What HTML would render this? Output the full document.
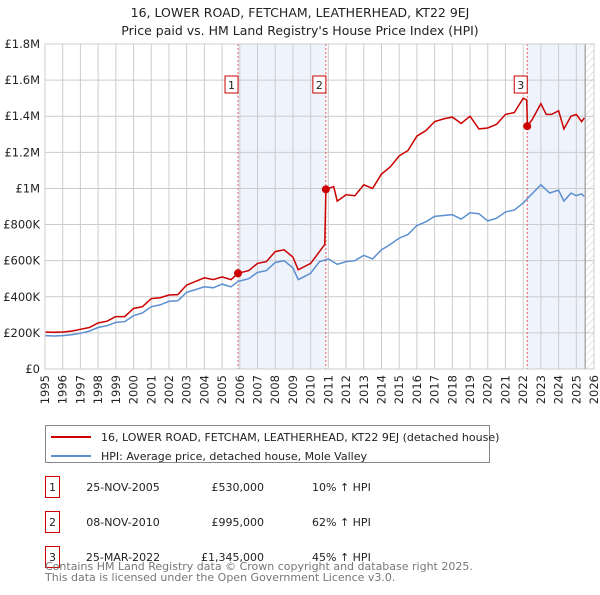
<!DOCTYPE html>
<html><head><meta charset="utf-8"><style>
body{margin:0;background:#fff;font-family:"Liberation Sans","DejaVu Sans",sans-serif;}
svg text{font-family:"DejaVu Sans","Liberation Sans",sans-serif;}
</style></head><body>
<svg id="chart" width="600" height="590" xmlns="http://www.w3.org/2000/svg">
<text x="300" y="17" text-anchor="middle" font-size="12.5" fill="#222">16, LOWER ROAD, FETCHAM, LEATHERHEAD, KT22 9EJ</text>
<text x="300" y="35" text-anchor="middle" font-size="12.5" fill="#222">Price paid vs. HM Land Registry's House Price Index (HPI)</text>
<defs><pattern id="hatch" width="5" height="5" patternUnits="userSpaceOnUse" patternTransform="rotate(45)"><line x1="0" y1="0" x2="0" y2="5" stroke="#ccc" stroke-width="1"/></pattern></defs>
<g id="plot"></g>
<g id="legend">
<rect x="45.5" y="425.5" width="444" height="37" fill="#fff" stroke="#888"/>
<line x1="51" y1="437" x2="91" y2="437" stroke="#cc0000" stroke-width="2"/>
<text x="101" y="441" font-size="11" fill="#222">16, LOWER ROAD, FETCHAM, LEATHERHEAD, KT22 9EJ (detached house)</text>
<line x1="51" y1="456" x2="91" y2="456" stroke="#5b8fd0" stroke-width="2"/>
<text x="101" y="460" font-size="11" fill="#222">HPI: Average price, detached house, Mole Valley</text>
</g>
<g id="table" font-size="11" fill="#222"></g>
<text x="45" y="570" font-size="11" fill="#777">Contains HM Land Registry data © Crown copyright and database right 2025.</text>
<text x="45" y="581" font-size="11" fill="#777">This data is licensed under the Open Government Licence v3.0.</text>
</svg>
<script>
const hpiYears=[1995,1995.5,1996,1996.5,1997,1997.5,1998,1998.5,1999,1999.5,2000,2000.5,2001,2001.5,2002,2002.5,2003,2003.5,2004,2004.5,2005,2005.5,2005.9,2006.5,2007,2007.5,2008,2008.5,2009,2009.3,2009.6,2010,2010.5,2011,2011.5,2012,2012.5,2013,2013.5,2014,2014.5,2015,2015.5,2016,2016.5,2017,2017.5,2018,2018.5,2019,2019.5,2020,2020.5,2021,2021.5,2022,2022.5,2023,2023.5,2024,2024.3,2024.7,2025,2025.3,2025.45];
const hpiValues=[185,183,185,190,198,210,230,240,258,262,295,310,345,355,375,378,425,440,455,450,470,455,485,500,535,545,590,600,560,495,510,530,595,610,580,595,600,630,610,660,690,725,745,795,815,845,850,855,830,865,860,820,835,870,880,920,970,1020,975,990,930,975,960,970,955];
const redYears=[1995,1995.5,1996,1996.5,1997,1997.5,1998,1998.5,1999,1999.5,2000,2000.5,2001,2001.5,2002,2002.5,2003,2003.5,2004,2004.5,2005,2005.5,2005.9,2006.5,2007,2007.5,2008,2008.5,2009,2009.3,2009.6,2010,2010.5,2010.8,2010.86,2011,2011.3,2011.5,2012,2012.5,2013,2013.5,2014,2014.5,2015,2015.5,2016,2016.5,2017,2017.5,2018,2018.5,2019,2019.5,2020,2020.5,2021,2021.5,2022,2022.2,2022.24,2022.5,2023,2023.3,2023.6,2024,2024.3,2024.7,2025,2025.3,2025.45];
const redValues=[205,203,205,210,220,230,255,265,290,290,335,345,390,395,410,412,465,485,505,495,510,495,530,545,585,595,650,660,620,550,565,585,650,690,995,1000,1010,930,965,960,1020,1000,1080,1120,1180,1210,1290,1320,1370,1385,1395,1360,1400,1330,1335,1355,1410,1420,1500,1490,1345,1380,1470,1410,1410,1430,1330,1400,1410,1370,1390];
const saleYears=[2005.9,2010.86,2022.23];
const saleValues=[530,995,1345];
const saleLabels=["1","2","3"];
const saleDates=["25-NOV-2005","08-NOV-2010","25-MAR-2022"];
const salePrices=["£530,000","£995,000","£1,345,000"];
const saleHpi=["10% ↑ HPI","62% ↑ HPI","45% ↑ HPI"];
const yTicks=[0,200,400,600,800,1000,1200,1400,1600,1800];
const yTickLabels=["£0","£200K","£400K","£600K","£800K","£1M","£1.2M","£1.4M","£1.6M","£1.8M"];
const xTicks=[1995,1996,1997,1998,1999,2000,2001,2002,2003,2004,2005,2006,2007,2008,2009,2010,2011,2012,2013,2014,2015,2016,2017,2018,2019,2020,2021,2022,2023,2024,2025,2026];

const NS="http://www.w3.org/2000/svg";
const X0=45,X1=594,Y0=369,Y1=44;
const xs=y=>X0+(y-1995)/(2026-1995)*(X1-X0);
const ys=v=>Y0-v/1800*(Y0-Y1);
const plot=document.getElementById('plot');
function mk(tag,attrs,parent){const e=document.createElementNS(NS,tag);for(const k in attrs)e.setAttribute(k,attrs[k]);(parent||plot).appendChild(e);return e;}
let r=mk('rect',{x:xs(saleYears[0]),y:Y1,width:xs(saleYears[1])-xs(saleYears[0]),height:Y0-Y1,fill:'#eef3fc'});


r=mk('rect',{x:xs(saleYears[2]),y:Y1,width:xs(2025.5)-xs(saleYears[2]),height:Y0-Y1,fill:'#eef3fc'});


r=mk('rect',{x:xs(2025.5),y:Y1,width:X1-xs(2025.5),height:Y0-Y1,fill:'url(#hatch)'});


yTicks.forEach((v,i)=>{
  const l=mk('line',{x1:X0,x2:X1,y1:ys(v),y2:ys(v),stroke:'#ccc','stroke-width':1});
  
  
  const t=mk('text',{x:X0-5,y:ys(v)+4,'text-anchor':'end','font-size':11.5,fill:'#222'});
  t.textContent=yTickLabels[i];
  
  
});
xTicks.forEach(y=>{
  const l=mk('line',{x1:xs(y),x2:xs(y),y1:Y1,y2:Y0,stroke:'#ccc','stroke-width':1});
  
  
  const t=mk('text',{x:0,y:0,'text-anchor':'end','font-size':11.5,fill:'#222',transform:`translate(${xs(y)+4},${Y0+6}) rotate(-90)`});
  t.textContent=y;
  
  
});
mk('line',{x1:xs(2025.5),x2:xs(2025.5),y1:Y1,y2:Y0,stroke:'#888','stroke-width':1});
saleYears.forEach((y,i)=>{
  const l=mk('line',{x1:xs(y),x2:xs(y),y1:Y1,y2:Y0,stroke:'#e06060','stroke-width':1,'stroke-dasharray':'2,2'});
  
  
});
const path=(xa,va)=>xa.map((y,i)=>(i?'L':'M')+xs(y).toFixed(1)+','+ys(va[i]).toFixed(1)).join('');
const hp=mk('path',{d:path(hpiYears,hpiValues),fill:'none',stroke:'#5b8fd0','stroke-width':1.5});


const rp=mk('path',{d:path(redYears,redValues),fill:'none',stroke:'#cc0000','stroke-width':1.5});


saleYears.forEach((y,i)=>{
  const c=mk('circle',{cx:xs(y),cy:ys(saleValues[i]),r:4,fill:'#cc0000'});
  
  
  const bx=xs(y)-13;
  const b=mk('rect',{x:bx,y:76,width:13,height:17,fill:'#fff',stroke:'#cc0000','stroke-width':1});
  
  
  const t=mk('text',{x:bx+6.5,y:89,'text-anchor':'middle','font-size':11,fill:'#222'});
  t.textContent=saleLabels[i];
  
  
});
mk('rect',{x:X0,y:Y1,width:X1-X0,height:Y0-Y1,fill:'none',stroke:'#ccc'});
const tbl=document.getElementById('table');
saleLabels.forEach((lab,i)=>{
  const cy=487+i*35;
  const b=mk('rect',{x:45.5,y:cy-10.5,width:14,height:21,fill:'#fff',stroke:'#cc0000'},tbl);
  
  
  const cells=[[52.5,'middle',lab],[123,'middle',saleDates[i]],[264,'end',salePrices[i]],[312,'start',saleHpi[i]]];
  cells.forEach(c=>{
    const t=mk('text',{x:c[0],y:cy+4,'text-anchor':c[1],'font-size':11,fill:'#222'},tbl);
    t.textContent=c[2];
    
    
  });
});
</script>
</body></html>
